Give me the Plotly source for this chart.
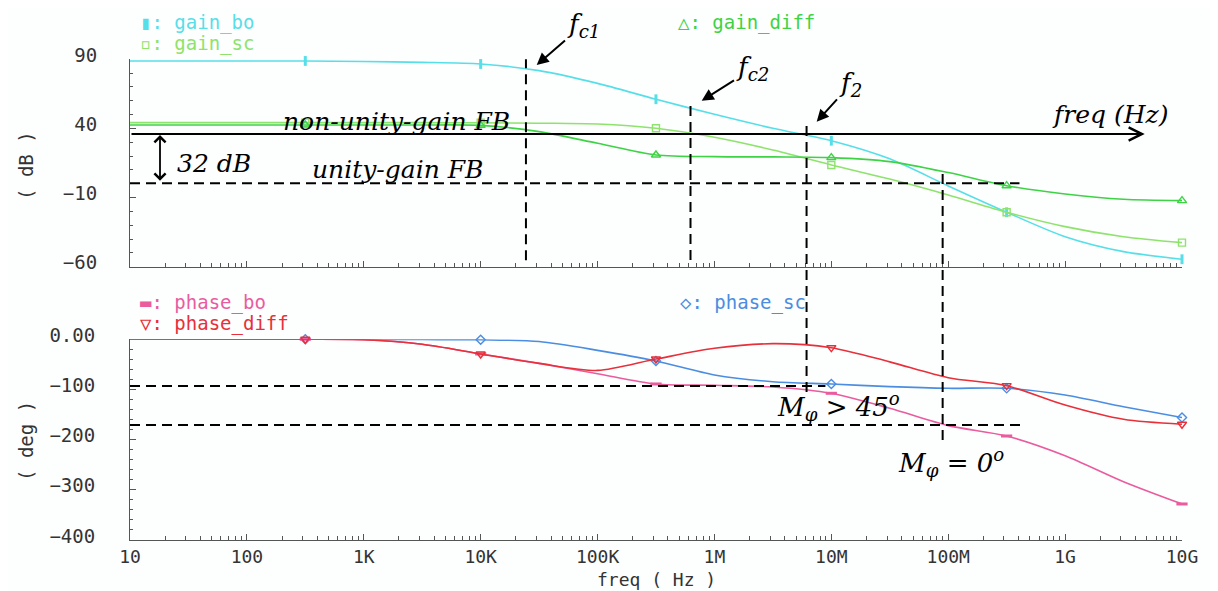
import math
import plotly.graph_objects as go

# page window and the page's default body margin that shifts the figure
WIN_W, WIN_H = 1218, 591
OFF = 8
W, H = WIN_W - OFF, WIN_H - OFF

# ---------------- data ----------------
freq_hz = [1e1, 3.16e1, 1e2, 3.16e2, 1e3, 3.16e3, 1e4, 3.16e4, 1e5, 3.16e5,
           1e6, 3.16e6, 1e7, 3.16e7, 1e8, 3.16e8, 1e9, 3.16e9, 1e10]

gain_bo = [88.8, 88.8, 88.8, 88.8, 88.4, 87.8, 86.6, 81.8, 72.6, 61.1,
           50.2, 40.1, 31.1, 18.0, -1.6, -20.6, -38.3, -49.1, -54.6]
gain_sc = [44.2, 44.2, 44.2, 44.2, 44.2, 44.2, 44.1, 43.8, 43.2, 40.1,
           33.6, 24.4, 13.6, 3.4, -8.1, -20.6, -31.0, -38.3, -42.6]
gain_diff = [42.5, 42.5, 42.5, 42.5, 42.5, 42.5, 42.2, 37.7, 29.3, 20.8,
             19.6, 19.4, 18.9, 16.0, 8.1, -1.4, -7.4, -11.2, -12.2]

phase_sc = [0, 0, 0, 0, 0, -0.5, -1.0, -4.5, -22.0, -43.2,
            -71.0, -84.5, -89.0, -94.4, -97.7, -97.7, -111.0, -134.3, -156.0]
phase_bo = [0, 0, 0, 0, -1.0, -10.0, -29.3, -48.0, -68.5, -89.0,
            -91.7, -95.0, -107.6, -137.5, -172.0, -192.7, -232.0, -283.8, -328.2]
phase_diff = [0, 0, 0, 0, -1.0, -10.0, -29.3, -48.0, -62.0, -39.3,
              -18.0, -8.7, -16.7, -45.0, -76.5, -92.4, -131.0, -159.5, -169.4]

marker_idx = [3, 6, 9, 12, 15, 18]

x_tickvals = [1e1, 1e2, 1e3, 1e4, 1e5, 1e6, 1e7, 1e8, 1e9, 1e10]
x_ticktext = ["10", "100", "1K", "10K", "100K", "1M", "10M", "100M", "1G", "10G"]
gain_tickvals = [90, 40, -10, -60]
gain_ticktext = ["90", "40", "\u221210", "\u221260"]
phase_tickvals = [0, -100, -200, -300, -400]
phase_ticktext = ["0.00", "\u2212100", "\u2212200", "\u2212300", "\u2212400"]

# annotation reference values
f_c1 = 2.44e4
f_c2 = 6.24e5
f_2 = 6.14e6
f_0 = 8.96e7
f_arrow_end = 4.8e9
level_nonunity_db = 36.0
level_unity_db = 0.3
pm45_deg = -93.0
pm0_deg = -171.0

# colours
C_BO = "#56dfe8"
C_SC = "#8ee36c"
C_DIFF = "#3dd345"
C_PBO = "#ea5c9e"
C_PDIFF = "#e8303a"
C_PSC = "#4b8de0"
TXT = "#333333"
MONO = "DejaVu Sans Mono"
SERIF = "DejaVu Serif"


def px(x):
    """page pixel x -> paper fraction"""
    return (x - OFF) / W


def py(y):
    """page pixel y -> paper fraction"""
    return 1 - (y - OFF) / H


# ---------------- layout geometry (page pixels) ----------------
X_DOM = [px(130), px(1182)]
TOP_DOM = [py(266.7), py(59.3)]
BOT_DOM = [py(540), py(339.3)]
TOP_RANGE = [-60, 90]
BOT_RANGE = [-400, 0]


def top_paper(v):
    return TOP_DOM[0] + (v - TOP_RANGE[0]) / (TOP_RANGE[1] - TOP_RANGE[0]) * (TOP_DOM[1] - TOP_DOM[0])


def bot_paper(v):
    return BOT_DOM[0] + (v - BOT_RANGE[0]) / (BOT_RANGE[1] - BOT_RANGE[0]) * (BOT_DOM[1] - BOT_DOM[0])


fig = go.Figure()


def add_series(y, color, symbol, msize, xa, ya, mlw=1.4):
    fig.add_trace(go.Scatter(
        x=freq_hz, y=y, mode="lines", xaxis=xa, yaxis=ya,
        line=dict(color=color, width=1.6, shape="spline", smoothing=0.8),
        showlegend=False, cliponaxis=False, hoverinfo="skip"))
    fig.add_trace(go.Scatter(
        x=[freq_hz[i] for i in marker_idx], y=[y[i] for i in marker_idx],
        mode="markers", xaxis=xa, yaxis=ya,
        marker=dict(symbol=symbol, size=msize, color=color,
                    line=dict(color=color, width=mlw)),
        showlegend=False, cliponaxis=False, hoverinfo="skip"))


add_series(gain_bo, C_BO, "line-ns", 7, "x", "y", mlw=3)
add_series(gain_sc, C_SC, "square-open", 7, "x", "y")
add_series(gain_diff, C_DIFF, "triangle-up-open", 8, "x", "y")
add_series(phase_sc, C_PSC, "diamond-open", 7, "x2", "y2")
add_series(phase_bo, C_PBO, "line-ew", 8, "x2", "y2", mlw=3)
add_series(phase_diff, C_PDIFF, "triangle-down-open", 8, "x2", "y2")

minor_x = [m * 10 ** k for k in range(1, 10) for m in range(2, 10)]

axis_common = dict(showline=True, linecolor="#555555", linewidth=1, showgrid=False,
                   zeroline=False, ticks="inside", tickcolor="#555555", automargin=False,
                   tickfont=dict(family=MONO, size=19, color=TXT))

fig.update_layout(
    width=W, height=H, margin=dict(l=0, r=0, t=0, b=0, autoexpand=False),
    paper_bgcolor="#fdfefe", plot_bgcolor="#fdfefe",
    xaxis=dict(type="log", range=[1, 10], domain=X_DOM, anchor="y",
               tickvals=x_tickvals, showticklabels=False, ticklen=6,
               minor=dict(tickvals=minor_x, ticks="inside", ticklen=4, tickcolor="#555555"),
               **axis_common),
    yaxis=dict(range=TOP_RANGE, domain=TOP_DOM, anchor="x",
               tickvals=gain_tickvals, ticktext=gain_ticktext, ticklen=6,
               ticklabelstandoff=28, ticklabelshift=-4,
               minor=dict(dtick=10, tick0=0, ticks="inside", ticklen=3, tickcolor="#555555"),
               **axis_common),
    xaxis2=dict(type="log", range=[1, 10], domain=X_DOM, anchor="y2",
                tickvals=x_tickvals, ticktext=x_ticktext, ticklen=6,
                ticklabelstandoff=0,
                minor=dict(tickvals=minor_x, ticks="inside", ticklen=4, tickcolor="#555555"),
                **axis_common),
    yaxis2=dict(range=BOT_RANGE, domain=BOT_DOM, anchor="x2",
                tickvals=phase_tickvals, ticktext=phase_ticktext, ticklen=6,
                ticklabelstandoff=30, ticklabelshift=-4,
                minor=dict(dtick=20, tick0=0, ticks="inside", ticklen=3, tickcolor="#555555"),
                **axis_common),
)
fig.update_xaxes(tickfont=dict(family=MONO, size=18, color=TXT), selector=dict(anchor="y2"))

DASH = dict(color="black", width=2, dash="10px,6px")

# horizontal dashed lines
fig.add_shape(type="line", xref="x", yref="y", x0=10, x1=4.07e8,
              y0=level_unity_db, y1=level_unity_db, line=DASH)
fig.add_shape(type="line", xref="x2", yref="y2", x0=10, x1=8.9e6,
              y0=pm45_deg, y1=pm45_deg, line=DASH)
fig.add_shape(type="line", xref="x2", yref="y2", x0=10, x1=4.27e8,
              y0=pm0_deg, y1=pm0_deg, line=DASH)
# vertical dashed lines
fig.add_shape(type="line", xref="x", yref="y", x0=f_c1, x1=f_c1, y0=90.7, y1=-56.5, line=DASH)
fig.add_shape(type="line", xref="x", yref="y", x0=f_c2, x1=f_c2, y0=56.2, y1=-56.5, line=DASH)
fig.add_shape(type="line", xref="x", yref="paper", x0=f_2, x1=f_2,
              y0=top_paper(41.8), y1=bot_paper(-107.6), line=DASH)
fig.add_shape(type="line", xref="x", yref="paper", x0=f_0, x1=f_0,
              y0=top_paper(7.1), y1=bot_paper(-207.3), line=DASH)

ann = []
# freq arrow (non-unity-gain FB level)
ann.append(dict(xref="x", yref="y", x=math.log10(f_arrow_end), y=level_nonunity_db,
                axref="x", ayref="y", ax=1, ay=level_nonunity_db, text="",
                showarrow=True, arrowhead=5, arrowsize=1.3, arrowwidth=2,
                arrowcolor="black", standoff=0))
# 32 dB double arrow
ann.append(dict(xref="paper", yref="y", x=px(160), y=level_nonunity_db - 0.8,
                axref="pixel", ayref="y", ax=0, ay=level_unity_db + 0.8, text="",
                showarrow=True, arrowhead=4, startarrowhead=4, arrowside="end+start",
                arrowsize=1.2, startarrowsize=1.2, arrowwidth=1.8, arrowcolor="black"))
# f labels with their arrows (text at the tail, arrow head at the curve)
for txt, hx, hy, tx, ty in [("<i>f<sub>c1</sub></i>", 536.7, 65, 583, 25),
                            ("<i>f<sub>c2</sub></i>", 701.7, 100.7, 752, 69),
                            ("<i>f<sub>2</sub></i>", 816.7, 121.7, 850, 85)]:
    ann.append(dict(xref="paper", yref="paper", x=px(hx), y=py(hy), ax=tx - hx, ay=ty - hy,
                    text=txt, font=dict(family=SERIF, size=26, color="black"),
                    showarrow=True, arrowhead=2, arrowsize=1.2, arrowwidth=2,
                    arrowcolor="black", standoff=0))


def label(text, x, y, size=25, family=SERIF, color="black", xanchor="left", angle=0):
    ann.append(dict(xref="paper", yref="paper", x=px(x), y=py(y), text=text,
                    showarrow=False, xanchor=xanchor, yanchor="middle", textangle=angle,
                    font=dict(family=family, size=size, color=color)))


label("<i>non-unity-gain FB</i>", 281, 122)
label("<i>unity-gain FB</i>", 310, 170)
label("<i>32 dB</i>", 175, 163)
label("<i>freq (Hz)</i>", 1050, 114)
label("<i>M<sub>\u03c6</sub> &gt; 45<sup>o</sup></i>", 775, 406, size=26)
label("<i>M<sub>\u03c6</sub> = 0<sup>o</sup></i>", 896, 463, size=26)

# legends
label("\u25ae: gain_bo", 138, 22.7, size=19, family=MONO, color=C_BO)
label("\u25ab: gain_sc", 138, 43, size=19, family=MONO, color=C_SC)
label("\u25b3: gain_diff", 676, 22.7, size=19, family=MONO, color=C_DIFF)
label("\u25ac: phase_bo", 138, 302.7, size=19, family=MONO, color=C_PBO)
label("\u25bd: phase_diff", 138, 323.3, size=19, family=MONO, color=C_PDIFF)
label("\u25c7: phase_sc", 678, 302.7, size=19, family=MONO, color=C_PSC)

# axis titles
label("( dB )", 26, 166, size=19, family=MONO, color=TXT, xanchor="center", angle=-90)
label("( deg )", 26, 441, size=19, family=MONO, color=TXT, xanchor="center", angle=-90)
label("freq ( Hz )", 656, 579, size=18, family=MONO, color=TXT, xanchor="center")

fig.update_layout(annotations=ann)
fig.write_html("out.html")
